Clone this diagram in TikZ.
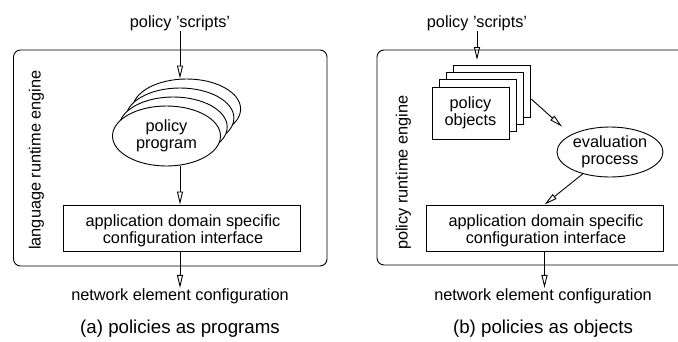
\documentclass[tikz,border=0pt]{standalone}
\usepackage{fontspec}
\setmainfont{Liberation Sans}
\usetikzlibrary{arrows.meta,shapes.geometric,calc}
\begin{document}
\begin{tikzpicture}[x=1pt,y=-1pt,
  lw/.style={line width=0.9pt},
  arr/.style={lw,-{Triangle[open,length=13pt,width=6pt]}},
  txt/.style={inner sep=0pt,font=\fontsize{16.3}{17}\selectfont},
  captxt/.style={inner sep=0pt,font=\fontsize{18.7}{20}\selectfont},
  frame/.style={lw,rounded corners=7pt},
  cfgbox/.style={lw,draw,rectangle,minimum height=46pt,inner sep=0pt},
  prog/.style={lw,draw,fill=white,ellipse,minimum width=108pt,minimum height=60pt,inner sep=0pt,font=\fontsize{16.3}{17}\selectfont},
  obj/.style={lw,draw,fill=white,rectangle,minimum width=77pt,minimum height=52pt,inner sep=0pt,font=\fontsize{16.3}{17}\selectfont},
  evalell/.style={lw,draw,ellipse,minimum width=106pt,minimum height=50pt,inner sep=0pt,font=\fontsize{16.3}{17}\selectfont},
]
\useasboundingbox (0,0) rectangle (678,341);

% ---------- left panel ----------
\draw[frame] (13.5,50) rectangle (327,266);
\node[txt,anchor=base] (scrA) at (180,27) {policy 'scripts'};
\node[prog] (pA3) at (186.6,109) {};
\node[prog] (pA2) at (179.9,118) {};
\node[prog] (pA1) at (173.2,127) {};
\node[prog,align=center] (pA) at (166.5,136) {policy\\program};
\draw[arr] (scrA.south) -- (scrA.south |- pA3.north);
\node[cfgbox,minimum width=237pt] (cfgA) at (181.5,228) {};
\node[txt,align=center] (cfgAt) at (183,231) {application domain specific\\configuration interface};
\draw[arr] (pA.south -| scrA.south) -- (scrA.south |- cfgA.north);
\node[txt,anchor=base] (netA) at (180,300) {network element configuration};
\draw[arr] (cfgA.south -| netA.north) -- (netA.north);
\node[captxt,anchor=base] (capA) at (180,333) {(a) policies as programs};
\node[txt,rotate=90,anchor=west] (engA) at (36.5,250) {language runtime engine};

% ---------- right panel ----------
\begin{scope}
\clip (0,0) rectangle (678,341);
\draw[frame] (377,50) rectangle (700,265);
\end{scope}
\node[txt,anchor=base] (scrB) at (477,27) {policy 'scripts'};
\coordinate (inB) at (477,60);
\draw[arr] (scrB.south) -- (inB);
\node[obj] (oB3) at (492.4,91.1) {};
\node[obj] (oB2) at (485.1,98.4) {};
\node[obj] (oB1) at (477.8,105.7) {};
\node[obj,align=center] (oB) at (470.5,113) {policy\\objects};
\node[evalell,align=center] (ev) at (610,152) {evaluation\\process};
\draw[arr,shorten >=12pt] ([yshift=-8pt]oB3.east) -- (ev.156);
\node[cfgbox,minimum width=237pt] (cfgB) at (544.5,228) {};
\node[txt,align=center] (cfgBt) at (546,231) {application domain specific\\configuration interface};
\draw[arr] (ev) -- (cfgB.north);
\node[txt,anchor=base] (netB) at (543,300) {network element configuration};
\draw[arr] (cfgB.south) -- (cfgB.south |- netB.north);
\node[captxt,anchor=base] (capB) at (543,333) {(b) policies as objects};
\node[txt,rotate=90,anchor=west] (engB) at (403.5,250) {policy runtime engine};
\end{tikzpicture}
\end{document}
